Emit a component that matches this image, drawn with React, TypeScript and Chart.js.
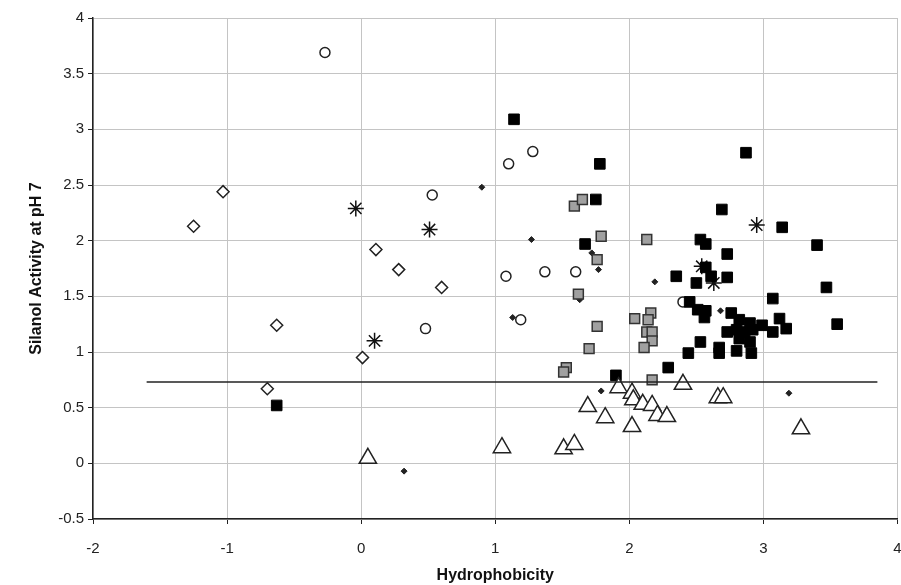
import React, { useEffect, useRef } from "react";
import { Chart, registerables } from "chart.js";

Chart.register(...registerables);

const xTicks = [-2, -1, 0, 1, 2, 3, 4];
const yTicks = [-0.5, 0, 0.5, 1, 1.5, 2, 2.5, 3, 3.5, 4];

const openDiamondX = [-1.25, -1.03, -0.63, -0.7, 0.01, 0.11, 0.28, 0.6];
const openDiamondY = [2.13, 2.44, 1.24, 0.67, 0.95, 1.92, 1.74, 1.58];

const circleX = [-0.27, 1.1, 1.28, 0.53, 1.08, 1.37, 1.6, 0.48, 1.19, 2.4];
const circleY = [3.69, 2.69, 2.8, 2.41, 1.68, 1.72, 1.72, 1.21, 1.29, 1.45];

const starX = [-0.04, 0.51, 0.1, 2.95, 2.54, 2.63];
const starY = [2.29, 2.1, 1.1, 2.14, 1.77, 1.62];

const smallDiamondX = [0.9, 1.27, 1.77, 1.72, 1.63, 1.13, 2.19, 2.68, 1.79, 3.19, 0.32];
const smallDiamondY = [2.48, 2.01, 1.74, 1.89, 1.47, 1.31, 1.63, 1.37, 0.65, 0.63, -0.07];

const blackSquareX = [
  -0.63, 1.14, 1.78, 1.75, 1.67, 1.9, 2.29, 2.35, 2.87, 2.69, 3.14, 3.4, 2.53, 2.57, 2.73,
  2.57, 2.73, 2.61, 2.5, 3.47, 3.07, 3.55, 2.45, 2.51, 2.57, 2.56, 2.76, 2.82, 2.9, 2.73,
  2.8, 2.86, 2.92, 2.99, 3.12, 3.07, 3.17, 2.9, 2.53, 2.44, 2.67, 2.67, 2.8, 2.91, 2.82,
];
const blackSquareY = [
  0.52, 3.09, 2.69, 2.37, 1.97, 0.79, 0.86, 1.68, 2.79, 2.28, 2.12, 1.96, 2.01, 1.97, 1.88,
  1.76, 1.67, 1.68, 1.62, 1.58, 1.48, 1.25, 1.45, 1.38, 1.37, 1.31, 1.35, 1.29, 1.26, 1.18,
  1.2, 1.18, 1.2, 1.24, 1.3, 1.18, 1.21, 1.09, 1.09, 0.99, 1.04, 0.99, 1.01, 0.99, 1.12,
];

const graySquareX = [1.59, 1.65, 1.79, 2.13, 1.76, 1.62, 1.76, 2.04, 2.16, 2.14, 2.13, 2.17, 2.17, 2.11, 1.7, 1.53, 1.51, 2.17];
const graySquareY = [2.31, 2.37, 2.04, 2.01, 1.83, 1.52, 1.23, 1.3, 1.35, 1.29, 1.18, 1.18, 1.1, 1.04, 1.03, 0.86, 0.82, 0.75];

const triangleX = [0.05, 1.05, 1.51, 1.59, 1.69, 1.82, 1.92, 2.02, 2.03, 2.1, 2.17, 2.21, 2.28, 2.02, 2.4, 2.66, 2.7, 3.28];
const triangleY = [0.045, 0.14, 0.13, 0.17, 0.51, 0.41, 0.68, 0.63, 0.57, 0.53, 0.52, 0.43, 0.42, 0.33, 0.71, 0.59, 0.59, 0.31];

const refLineX = [-1.6, 3.85];
const refLineY = [0.73, 0.73];

const pts = (xs: number[], ys: number[]) => xs.map((x, i) => ({ x, y: ys[i] }));

const FONT = "'Liberation Sans', Arial, Helvetica, sans-serif";

export default function App() {
  const ref = useRef<HTMLCanvasElement | null>(null);

  useEffect(() => {
    if (!ref.current) return;
    const chart = new Chart(ref.current, {
      type: "scatter",
      data: {
        datasets: [
          {
            data: pts(refLineX, refLineY),
            showLine: true,
            borderColor: "#222",
            borderWidth: 1.5,
            pointRadius: 0,
          },
          {
            data: pts(triangleX, triangleY),
            pointStyle: "triangle",
            pointRadius: 10,
            backgroundColor: "#fff",
            borderColor: "#222",
            borderWidth: 1.5,
          },
          {
            data: pts(graySquareX, graySquareY),
            pointStyle: "rect",
            pointRadius: 7,
            backgroundColor: "#a0a0a0",
            borderColor: "#333",
            borderWidth: 1.5,
          },
          {
            data: pts(blackSquareX, blackSquareY),
            pointStyle: "rect",
            pointRadius: 7.5,
            backgroundColor: "#000",
            borderColor: "#000",
            borderWidth: 1,
          },
          {
            data: pts(circleX, circleY),
            pointStyle: "circle",
            pointRadius: 5,
            backgroundColor: "#fff",
            borderColor: "#222",
            borderWidth: 1.5,
          },
          {
            data: pts(openDiamondX, openDiamondY),
            pointStyle: "rectRot",
            pointRadius: 6,
            backgroundColor: "#fff",
            borderColor: "#222",
            borderWidth: 1.5,
          },
          {
            data: pts(smallDiamondX, smallDiamondY),
            pointStyle: "rectRot",
            pointRadius: 3,
            backgroundColor: "#222",
            borderColor: "#222",
            borderWidth: 1,
          },
          {
            data: pts(starX, starY),
            pointStyle: "star",
            pointRadius: 8,
            backgroundColor: "#111",
            borderColor: "#111",
            borderWidth: 1.5,
          },
        ],
      },
      options: {
        responsive: false,
        animation: false,
        layout: { padding: { top: 18, right: 4, left: 0, bottom: 0 } },
        plugins: { legend: { display: false }, tooltip: { enabled: false } },
        scales: {
          x: {
            type: "linear",
            min: xTicks[0],
            max: xTicks[xTicks.length - 1],
            afterBuildTicks: (s: any) => {
              s.ticks = xTicks.map((v) => ({ value: v }));
            },
            afterFit: (s: any) => {
              s.height = 66;
              s.paddingLeft = 0;
              s.paddingRight = 0;
            },
            ticks: {
              callback: (v: any) => String(v),
              font: { family: FONT, size: 15 },
              color: "#222",
              padding: 16,
              maxRotation: 0,
            },
            grid: { color: "#c4c4c4", lineWidth: 1, tickColor: "#222", tickLength: 5 },
            border: { color: "#222", width: 1.5 },
            title: {
              display: true,
              text: "Hydrophobicity",
              font: { family: FONT, size: 16, weight: "bold" },
              color: "#111",
              padding: { top: 0, bottom: 0 },
            },
          },
          y: {
            type: "linear",
            min: yTicks[0],
            max: yTicks[yTicks.length - 1],
            afterBuildTicks: (s: any) => {
              s.ticks = yTicks.map((v) => ({ value: v }));
            },
            afterFit: (s: any) => {
              s.width = 93;
              s.paddingTop = 0;
              s.paddingBottom = 0;
            },
            ticks: {
              callback: (v: any) => String(v),
              font: { family: FONT, size: 15 },
              color: "#222",
              padding: 4,
            },
            grid: { color: "#c4c4c4", lineWidth: 1, tickColor: "#222", tickLength: 5 },
            border: { color: "#222", width: 1.5 },
            title: {
              display: true,
              text: "Silanol Activity at pH 7",
              font: { family: FONT, size: 16, weight: "bold" },
              color: "#111",
              padding: { top: 27, bottom: 0 },
            },
          },
        },
      },
    });
    return () => chart.destroy();
  }, []);

  return (
    <div
      style={{
        position: "absolute",
        left: 0,
        top: 0,
        width: 901,
        height: 585,
        overflow: "hidden",
        background: "#fff",
      }}
    >
      <canvas ref={ref} width={909} height={585} style={{ display: "block" }} />
    </div>
  );
}
